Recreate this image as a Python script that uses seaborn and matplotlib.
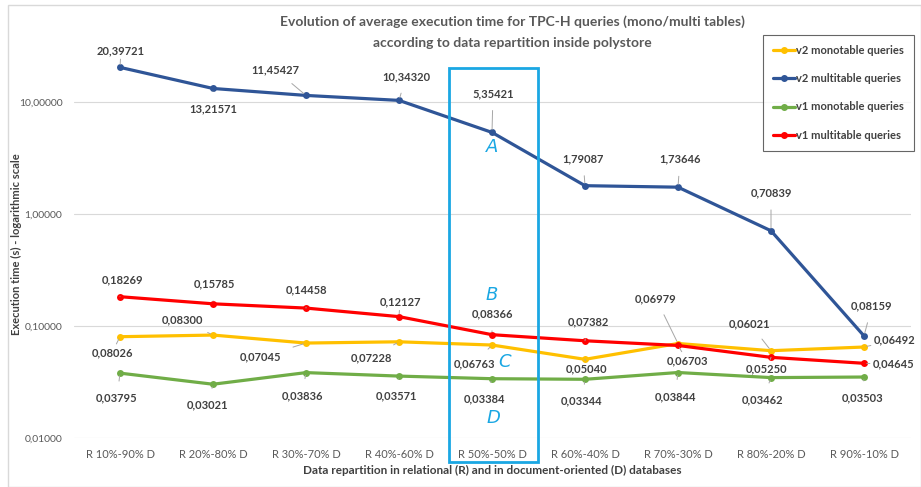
import matplotlib
matplotlib.use("Agg")
import matplotlib.pyplot as plt
import matplotlib.patches as patches
import matplotlib.transforms as mtransforms
from matplotlib.lines import Line2D
from matplotlib.ticker import FixedLocator, NullLocator
import seaborn as sns
import pandas as pd

# data
categories = ['R 10%-90% D', 'R 20%-80% D', 'R 30%-70% D', 'R 40%-60% D', 'R 50%-50% D',
              'R 60%-40% D', 'R 70%-30% D', 'R 80%-20% D', 'R 90%-10% D']
v2_mono = [0.08026, 0.08300, 0.07045, 0.07228, 0.06763, 0.05040, 0.06979, 0.06021, 0.06492]
v2_multi = [20.39721, 13.21571, 11.45427, 10.34320, 5.35421, 1.79087, 1.73646, 0.70839, 0.08159]
v1_mono = [0.03795, 0.03021, 0.03836, 0.03571, 0.03384, 0.03344, 0.03844, 0.03462, 0.03503]
v1_multi = [0.18269, 0.15785, 0.14458, 0.12127, 0.08366, 0.07382, 0.06703, 0.05250, 0.04645]
series_names = ['v2 monotable queries', 'v2 multitable queries', 'v1 monotable queries', 'v1 multitable queries']
y_ticks = [0.01, 0.1, 1, 10]
y_tick_labels = ['0,01000', '0,10000', '1,00000', '10,00000']

colors = {'v2 monotable queries': '#FFC000', 'v2 multitable queries': '#2F5597',
          'v1 monotable queries': '#70AD47', 'v1 multitable queries': '#FF0000'}

# label offsets in pixels (dx, dy), dy positive upward
offsets = {
    'v2 monotable queries': [(-8, -16), (-31, 15), (-45, -14), (-28, -16), (-18, -19), (2, -10), (-22, 45), (-21, 27), (31, 7)],
    'v2 multitable queries': [(1, 17), (0, -20), (-31, 26), (7, 24), (1, 39), (-2, 27), (2, 28), (0, 38), (8, 30)],
    'v1 monotable queries': [(-3, -25), (-5, -21), (-4, -23), (-3, -20), (-8, -20), (-3, -22), (-3, -24), (-8, -22), (-1, -21)],
    'v1 multitable queries': [(3, 17), (1, 20), (1, 18), (1, 15), (0, 21), (3, 19), (9, -15), (-4, -11), (30, -1)],
}

values = {'v2 monotable queries': v2_mono, 'v2 multitable queries': v2_multi,
          'v1 monotable queries': v1_mono, 'v1 multitable queries': v1_multi}

rows = []
for name in series_names:
    for i, v in enumerate(values[name]):
        rows.append({'x': i, 'value': v, 'series': name})
df = pd.DataFrame(rows)

sns.set_style('white')
plt.rcParams['font.family'] = ['Lato', 'DejaVu Sans']

W, H = 921, 487
fig = plt.figure(figsize=(W / 100, H / 100), dpi=100)
ax = fig.add_axes([73.5 / W, 1 - 438 / H, (910.5 - 73.5) / W, (438 - 40) / H])

# draw series in back-to-front order
for name in ['v1 monotable queries', 'v2 monotable queries', 'v1 multitable queries', 'v2 multitable queries']:
    sns.lineplot(data=df[df['series'] == name], x='x', y='value', color=colors[name],
                 marker='o', markersize=5, markeredgewidth=0, linewidth=2.3, ax=ax, legend=False)

ax.set_yscale('log')
ax.set_ylim(0.01, 35.8)
ax.set_xlim(-0.5, 8.5)
ax.yaxis.set_major_locator(FixedLocator(y_ticks))
ax.yaxis.set_minor_locator(NullLocator())
ax.set_yticklabels(y_tick_labels)
ax.set_xticks(range(len(categories)))
ax.set_xticklabels(categories)
ax.tick_params(axis='both', length=0, labelsize=8, colors='#595959')
ax.tick_params(axis='y', pad=8, labelsize=7.5)
ax.tick_params(axis='x', pad=8)
ax.grid(axis='y', color='#D9D9D9', linewidth=0.8)
ax.set_axisbelow(True)
for s in ax.spines.values():
    s.set_visible(False)
ax.set_xlabel('')
ax.set_ylabel('')

# data labels
for name in series_names:
    for i, v in enumerate(values[name]):
        dx, dy = offsets[name][i]
        txt = f'{v:.5f}'.replace('.', ',')
        ax.annotate(txt, xy=(i, v), xytext=(dx, dy), textcoords='offset pixels',
                    ha='center', va='center', fontsize=8, fontweight='bold', color='#404040',
                    arrowprops=dict(arrowstyle='-', color='#A6A6A6', lw=0.7, shrinkA=6, shrinkB=2))

# titles and axis labels
fig.text(512 / W, 1 - 22 / H, 'Evolution of average execution time for TPC-H queries (mono/multi tables)',
         ha='center', va='center', fontsize=10, fontweight='bold', color='#595959')
fig.text(512 / W, 1 - 43 / H, 'according to data repartition inside polystore',
         ha='center', va='center', fontsize=10, fontweight='bold', color='#595959')
fig.text(16 / W, 1 - 244 / H, 'Execution time (s) - logarithmic scale', rotation=90,
         ha='center', va='center', fontsize=8, fontweight='bold', color='#404040')
fig.text(492 / W, 1 - 470 / H, 'Data repartition in relational (R) and in document-oriented (D) databases',
         ha='center', va='center', fontsize=8.5, fontweight='bold', color='#404040')

# highlight rectangle and letters
fig.patches.append(patches.Rectangle((449 / W, 1 - 462 / H), 89 / W, 394 / H, transform=fig.transFigure,
                                     fill=False, edgecolor='#1AA7E3', linewidth=2))
trans = mtransforms.blended_transform_factory(ax.transData, fig.transFigure)
for letter, xpos, ypix in [('A', 4, 147), ('B', 4, 295), ('C', 4.14, 362), ('D', 4.02, 418)]:
    ax.text(xpos, 1 - ypix / H, letter, transform=trans, ha='center', va='center',
            fontsize=13, fontstyle='italic', color='#1AA7E3', family=['DejaVu Sans'])

# chart border
fig.patches.append(patches.Rectangle((8 / W, 0), 1 - 8 / W, 1 - 5 / H, transform=fig.transFigure,
                                     fill=False, edgecolor='#D9D9D9', linewidth=1))

# legend
handles = [Line2D([0], [0], color=colors[n], lw=2.3, marker='o', markersize=4) for n in series_names]
leg = fig.legend(handles, series_names, loc='upper left', bbox_to_anchor=(763 / W, 1 - 35 / H),
                 bbox_transform=fig.transFigure, fontsize=8, frameon=True, fancybox=False,
                 edgecolor='#404040', labelspacing=1.55, handlelength=2, handletextpad=0.1,
                 borderpad=0.9, borderaxespad=0)
leg.get_frame().set_linewidth(0.8)
for t in leg.get_texts():
    t.set_color('#404040')
    t.set_fontweight('bold')

fig.savefig('out.png', dpi=100)
